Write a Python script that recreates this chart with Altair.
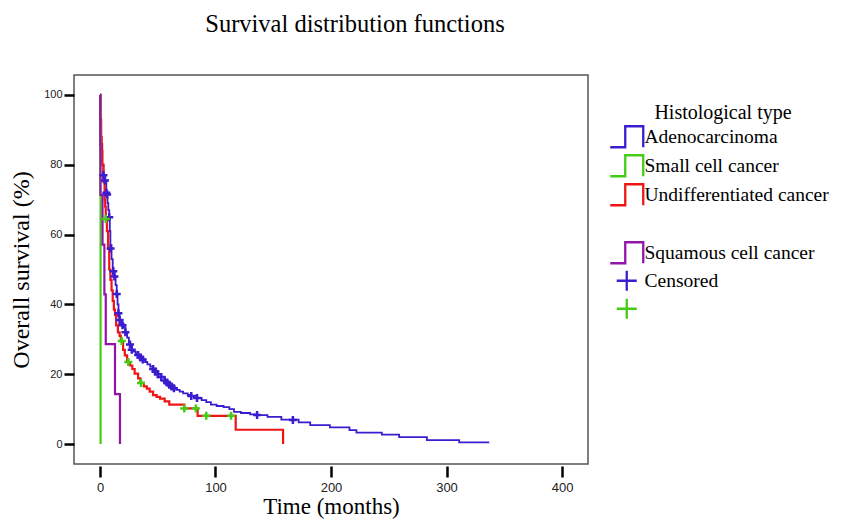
import altair as alt
import pandas as pd

# ---- data (time in months, survival in %) ----
adeno_t = [0, 0.5, 1, 2, 3, 4.3, 5.5, 6.5, 7.2, 8, 8.5, 9, 10, 11, 11.5, 12.5, 13.5, 14.5,
           15.2, 16, 17, 18.5, 20.5, 22, 23.5, 25, 26, 27.5, 29, 31, 33, 35, 37, 39, 41,
           43.5, 46, 48, 50, 53, 56, 58, 60, 62, 64, 66, 69, 72, 76, 79, 84, 88, 92, 96,
           101, 107, 112, 116, 122, 130, 136, 145, 157, 172, 182, 199, 216, 222, 244,
           259, 283, 311, 337]
adeno_s = [100, 92, 86, 80, 77, 75.5, 72, 69, 67, 65, 61, 57, 53, 50.5, 49.5, 48, 45.5, 43,
           40, 37.5, 35.5, 34.5, 33.5, 32, 30.5, 29, 28.5, 27, 26.5, 26, 25.5, 24.8, 24.2,
           23.5, 22.8, 22.2, 21.5, 20.8, 20, 19.2, 18.2, 17.6, 17, 16.5, 16, 15.5, 15,
           14.5, 14.1, 13.8, 13.2, 12.6, 12, 11.3, 10.9, 10.6, 10, 9.2, 8.9, 8.5, 8.3, 7.8,
           7.0, 6.2, 5.4, 4.8, 4.0, 3.3, 2.7, 2.0, 1.1, 0.5, 0.5]

undiff_t = [0, 0.5, 1, 1.5, 2, 3, 4, 4.5, 5, 6, 7, 8, 9, 10, 11, 12, 13, 14, 15.5, 17, 18,
            20, 21.5, 23.5, 26, 28, 30, 33, 35, 38, 40.5, 43, 46, 49, 52, 56, 60, 73,
            84.5, 117.5, 158.5]
undiff_s = [100, 93, 88, 84, 80, 75, 70, 68, 64.5, 61, 56, 50, 47, 44, 41, 38.5, 37, 34,
            32, 31, 29.5, 27, 25.4, 23.5, 22.5, 21.5, 20.2, 18.8, 17.5, 16.5, 15.9, 15,
            14, 13.5, 13, 12.2, 11.3, 10.2, 8.1, 4.1, 0]

small_t = [0, 0.3, 0.5]
small_s = [100, 71.4, 0]

squam_t = [0, 0.2, 0.4, 2.2, 3.8, 5, 13, 17.3]
squam_s = [100, 85.7, 71.4, 57.1, 42.9, 28.6, 14.3, 0]

cens_adeno_t = [3, 4.3, 5.5, 6.2, 8, 9.2, 11.5, 12.5, 14.5, 16, 17, 19.5, 22, 26, 27.5, 33,
                35, 37, 46, 48, 50, 53, 56, 58, 60, 62, 64, 79, 84, 136, 167]
cens_adeno_s = [77, 75.5, 72, 71.5, 65, 56, 49.5, 48, 43, 37.5, 35.5, 34, 32, 28.5, 27,
                25.5, 24.8, 24.2, 21.5, 20.8, 20, 19.2, 18.2, 17.6, 17, 16.5, 16, 13.8,
                13.2, 8.3, 6.9]
cens_undiff_t = [5, 18.8, 24.5, 35.5, 73, 83, 92, 113.5]
cens_undiff_s = [64.5, 29.5, 23.5, 17.5, 10.2, 10.2, 8.1, 8.1]

KEYS = ["Adenocarcinoma", "Small cell cancer", "Undifferentiated cancer", " ",
        "Squamous cell cancer", "Censored", "  "]
COLORS = ["#3b1ccf", "#44cc14", "#f01414", "#ffffff", "#9314a8", "#3b1ccf", "#44cc14"]
STEP = "M-3.3,2.1H-0.3V-2.1H3.3V2.1"
PLUS = "M-2,0H2M0,-2V2"
SHAPES = [STEP, STEP, STEP, STEP, STEP, PLUS, PLUS]


def frame(key, ts, ss):
    return pd.DataFrame({"key": key, "t": ts, "S": ss})


xs = alt.Scale(domain=[-22.5, 422.5], nice=False, zero=False)
ys = alt.Scale(domain=[-5.71, 105.71], nice=False, zero=False)
cs = alt.Scale(domain=KEYS, range=COLORS)
shs = alt.Scale(domain=KEYS, range=SHAPES)

xaxis = alt.Axis(values=[0, 100, 200, 300, 400], title="Time (months)", domain=False,
                 grid=False, offset=2, tickSize=11, tickWidth=2.5, tickColor="black",
                 labelFont="Liberation Sans", labelFontSize=13, labelColor="#222222",
                 labelPadding=4, titleFont="Liberation Serif", titleFontSize=23,
                 titleFontWeight="normal", titleColor="black", titlePadding=1,
                 format="d")
yaxis = alt.Axis(values=[0, 20, 40, 60, 80, 100], title="Overall survival (%)",
                 domain=False, grid=False, tickSize=10, tickWidth=2.5, tickColor="black",
                 labelFont="Liberation Sans", labelFontSize=11, labelColor="#222222",
                 labelPadding=2, titleFont="Liberation Serif", titleFontSize=24,
                 titleFontWeight="normal", titleColor="black", titlePadding=10,
                 format="d")

leg = alt.Legend(title="Histological type", orient="none", legendX=543, legendY=28,
                 titleFont="Liberation Serif", titleFontSize=20, titleFontWeight="normal",
                 titleColor="black", titleAnchor="middle", titlePadding=4,
                 labelFont="Liberation Serif", labelFontSize=19.5, labelColor="black",
                 labelLimit=400, labelOffset=8, symbolSize=100, symbolStrokeWidth=2.3,
                 symbolOpacity=1, symbolFillColor="transparent", rowPadding=-2, padding=0)


def line_layer(df, w):
    return alt.Chart(df).mark_line(interpolate="step-after", strokeWidth=w).encode(
        x=alt.X("t:Q", scale=xs, axis=xaxis),
        y=alt.Y("S:Q", scale=ys, axis=yaxis),
        color=alt.Color("key:N", scale=cs, legend=leg),
    )


cens = pd.concat([frame("Censored", cens_adeno_t, cens_adeno_s),
                  frame("  ", cens_undiff_t, cens_undiff_s)])

points = alt.Chart(cens).mark_point(filled=False, size=16, strokeWidth=2.5, opacity=1).encode(
    x=alt.X("t:Q", scale=xs, axis=xaxis),
    y=alt.Y("S:Q", scale=ys, axis=yaxis),
    color=alt.Color("key:N", scale=cs, legend=leg),
    shape=alt.Shape("key:N", scale=shs, legend=leg),
)

chart = alt.layer(
    line_layer(frame("Adenocarcinoma", adeno_t, adeno_s), 1.8),
    line_layer(frame("Undifferentiated cancer", undiff_t, undiff_s), 2.2),
    line_layer(frame("Small cell cancer", small_t, small_s), 2.2),
    line_layer(frame("Squamous cell cancer", squam_t, squam_s), 2.2),
    points,
).properties(
    width=514, height=389, autosize="none",
    padding={"left": 66, "top": 67, "right": 248, "bottom": 55},
    title=alt.Title("Survival distribution functions", font="Liberation Serif",
                    fontSize=24.5, fontWeight="normal", color="black", frame="group",
                    anchor="middle", dx=24, offset=38),
).configure_view(stroke="#555555", strokeWidth=1.5)

chart.save("out.html", embed_options={"renderer": "svg", "actions": False})
